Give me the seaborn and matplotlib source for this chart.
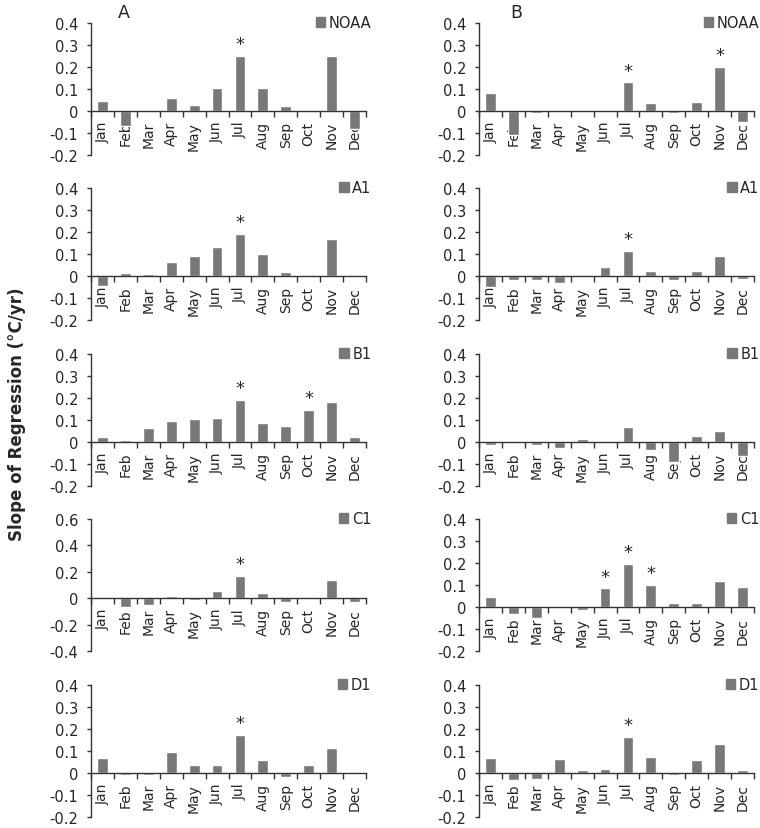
import matplotlib
matplotlib.use("Agg")
import matplotlib.pyplot as plt
import seaborn as sns
import pandas as pd
import numpy as np
from matplotlib.patches import Patch
from matplotlib.ticker import MultipleLocator, FuncFormatter

months = ["Jan", "Feb", "Mar", "Apr", "May", "Jun",
          "Jul", "Aug", "Sep", "Oct", "Nov", "Dec"]

# Column A
a_noaa = [0.045, -0.07, 0.0, 0.06, 0.028, 0.105, 0.25, 0.105, 0.025, -0.005, 0.25, -0.08]
a_a1 = [-0.045, 0.015, 0.008, 0.065, 0.09, 0.13, 0.19, 0.10, 0.02, 0.0, 0.17, 0.003]
a_b1 = [0.022, 0.008, 0.062, 0.097, 0.103, 0.11, 0.19, 0.087, 0.075, 0.145, 0.18, 0.025]
a_c1 = [-0.003, -0.07, -0.055, 0.015, -0.015, 0.052, 0.17, 0.037, -0.025, 0.008, 0.135, -0.03]
a_d1 = [0.07, -0.008, -0.01, 0.097, 0.035, 0.037, 0.172, 0.057, -0.02, 0.035, 0.115, 0.0]

# Column B
b_noaa = [0.08, -0.11, -0.008, 0.0, 0.0, 0.0, 0.13, 0.035, -0.008, 0.04, 0.20, -0.05]
b_a1 = [-0.048, -0.018, -0.02, -0.032, 0.005, 0.04, 0.115, 0.025, -0.018, 0.022, 0.09, -0.015]
b_b1 = [-0.015, 0.0, -0.012, -0.025, 0.015, -0.003, 0.068, -0.038, -0.09, 0.027, 0.05, -0.065]
b_c1 = [0.045, -0.03, -0.05, 0.005, -0.015, 0.085, 0.195, 0.10, 0.018, 0.02, 0.118, 0.092]
b_d1 = [0.068, -0.032, -0.028, 0.065, 0.015, 0.018, 0.165, 0.072, -0.008, 0.058, 0.13, 0.012]

series_names = ["NOAA", "A1", "B1", "C1", "D1"]
col_a = [a_noaa, a_a1, a_b1, a_c1, a_d1]
col_b = [b_noaa, b_a1, b_b1, b_c1, b_d1]

# significant months (marked with *)
stars_a = [["Jul"], ["Jul"], ["Jul", "Oct"], ["Jul"], ["Jul"]]
stars_b = [["Jul", "Nov"], ["Jul"], [], ["Jun", "Jul", "Aug"], ["Jul"]]

ylims_a = [(-0.2, 0.4), (-0.2, 0.4), (-0.2, 0.4), (-0.4, 0.6), (-0.2, 0.4)]
ysteps_a = [0.1, 0.1, 0.1, 0.2, 0.1]
ylims_b = [(-0.2, 0.4)] * 5
ysteps_b = [0.1] * 5

column_letters = ["A", "B"]
ylabel_text = "Slope of Regression (°C/yr)"

BAR = "#787878"

sns.set_style("ticks")
plt.rcParams['font.family'] = ['DejaVu Sans']
plt.rcParams['axes.unicode_minus'] = False

W, H = 760, 829
fig = plt.figure(figsize=(W / 100, H / 100), dpi=100)

col_left_px = [91, 479]
ax_w_px = 275
row_top_px = [24, 189, 355, 520, 686]
ax_h_px = 132

fmt = FuncFormatter(lambda v, p: f"{round(v, 2):g}")

for c, (col, stars, ylims, ysteps) in enumerate(
        [(col_a, stars_a, ylims_a, ysteps_a), (col_b, stars_b, ylims_b, ysteps_b)]):
    for r in range(5):
        left = col_left_px[c] / W
        bottom = 1 - (row_top_px[r] + ax_h_px) / H
        ax = fig.add_axes([left, bottom, ax_w_px / W, ax_h_px / H])
        vals = col[r]
        df = pd.DataFrame({"month": months, "slope": vals})
        sns.barplot(data=df, x="month", y="slope", color=BAR, saturation=1,
                    width=0.47, ax=ax, errorbar=None)
        ax.set_xlim(-0.5, 11.5)
        ax.set_ylim(*ylims[r])
        ax.yaxis.set_major_locator(MultipleLocator(ysteps[r]))
        ax.yaxis.set_major_formatter(fmt)
        ax.set_xlabel("")
        ax.set_ylabel("")
        for s in ["top", "right"]:
            ax.spines[s].set_visible(False)
        ax.spines["bottom"].set_position(("data", 0))
        ax.spines["bottom"].set_color("#333333")
        ax.spines["left"].set_color("#333333")
        ax.spines["bottom"].set_linewidth(1.0)
        ax.spines["left"].set_linewidth(1.0)
        ax.set_xticks(range(12))
        ax.set_xticklabels(months, rotation=90, va="top", ha="center", fontsize=10)
        ax.set_xticks(np.arange(-0.5, 12, 1), minor=True)
        ax.tick_params(axis="x", which="major", length=0, pad=7)
        ax.tick_params(axis="x", which="minor", length=4.5, width=1, direction="out",
                       color="#333333")
        ax.tick_params(axis="y", length=3, width=1, direction="out", pad=6,
                       labelsize=10.5, color="#333333")
        for m in stars[r]:
            i = months.index(m)
            ax.annotate("*", (i, vals[i]), xytext=(0, 2), textcoords="offset points",
                        ha="center", va="bottom", fontsize=13)
        ax.legend(handles=[Patch(color=BAR)], labels=[series_names[r]],
                  loc="upper right", bbox_to_anchor=(1.02, 1.06), frameon=False,
                  handlelength=0.65, handleheight=0.65, handletextpad=0.25,
                  borderpad=0, borderaxespad=0, fontsize=10.5)
        if r == 0:
            ax.text(0.12 if c == 0 else 0.137, 1.08, column_letters[c],
                    transform=ax.transAxes, ha="center", va="center", fontsize=12.5)

fig.text(17 / W, 0.5, ylabel_text, rotation=90, ha="center", va="center",
         fontsize=12, fontweight="bold")

fig.savefig("out.png", dpi=100)
